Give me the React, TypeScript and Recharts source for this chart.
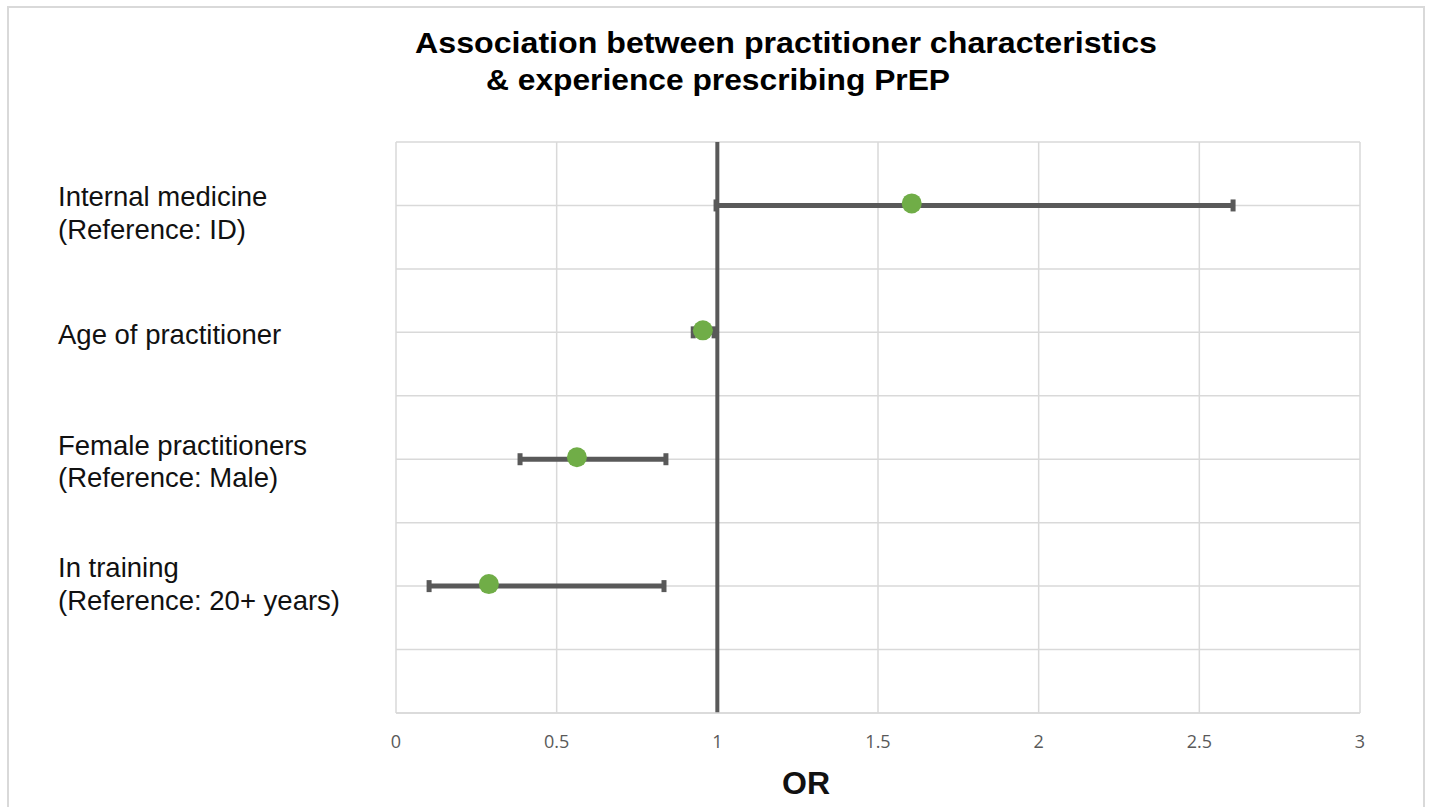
import React from "react";
import {
  ComposedChart,
  Scatter,
  XAxis,
  YAxis,
  CartesianGrid,
  ReferenceLine,
  ErrorBar,
} from "recharts";

// ---- data ----
const categories = [
  ["Internal medicine", "(Reference: ID)"],
  ["Age of practitioner"],
  ["Female practitioners", "(Reference: Male)"],
  ["In training", "(Reference: 20+ years)"],
];
const rowPositions = [8, 6, 4, 2];
const oddsRatios = [1.605, 0.955, 0.563, 0.289];
const lowerCI = [0.996, 0.925, 0.386, 0.103];
const upperCI = [2.605, 0.99, 0.84, 0.834];
const xTicks = [0, 0.5, 1, 1.5, 2, 2.5, 3];
const yTicks = [0, 1, 2, 3, 4, 5, 6, 7, 8, 9];

// label vertical offsets (style only)
const labelOffsets = [
  [1, 34],
  [12],
  [-4, 28],
  [-9, 24],
];

const data = categories.map((c, i) => ({
  name: c.join(" "),
  x: oddsRatios[i],
  y: rowPositions[i],
  err: [oddsRatios[i] - lowerCI[i], upperCI[i] - oddsRatios[i]],
}));

const YTick = (props: any) => {
  const { y, payload } = props;
  const idx = rowPositions.indexOf(payload.value);
  if (idx < 0) return null;
  const lines = categories[idx];
  return (
    <g>
      {lines.map((ln, j) => (
        <text
          key={j}
          x={49}
          y={y + labelOffsets[idx][j]}
          textAnchor="start"
          fontFamily="'Liberation Sans', Arial, sans-serif"
          fontSize={27.5}
          fill="#111"
        >
          {ln}
        </text>
      ))}
    </g>
  );
};

export default function App() {
  return (
    <div
      style={{
        position: "fixed",
        left: 7,
        top: 6,
        width: 1418,
        height: 801,
        borderLeft: "2px solid #d9d9d9",
        borderTop: "2px solid #d9d9d9",
        borderRight: "2px solid #d9d9d9",
        boxSizing: "border-box",
        background: "#fff",
      }}
    >
      <ComposedChart
        width={1414}
        height={799}
        data={data}
        margin={{ top: 134, right: 63, left: 11, bottom: 64 }}
      >
        <CartesianGrid stroke="#d9d9d9" strokeWidth={1.5} />
        <XAxis
          type="number"
          dataKey="x"
          domain={[0, 3]}
          ticks={xTicks}
          interval={0}
          tickLine={false}
          axisLine={{ stroke: "#d9d9d9", strokeWidth: 1.5 }}
          tickMargin={16}
          tick={{ fill: "#595959", fontSize: 18, fontFamily: "'Open Sans', sans-serif" }}
          height={30}
        />
        <YAxis
          type="number"
          dataKey="y"
          domain={[0, 9]}
          ticks={yTicks}
          interval={0}
          tickLine={false}
          axisLine={false}
          width={376}
          tick={<YTick />}
        />
        <ReferenceLine x={1} stroke="#595959" strokeWidth={4} />
        <Scatter
          dataKey="y"
          fill="#70AD47"
          isAnimationActive={false}
          shape={(p: any) => <circle cx={p.cx} cy={p.cy - 2} r={10} fill="#70AD47" />}
        >
          <ErrorBar
            dataKey="err"
            direction="x"
            width={6}
            strokeWidth={5}
            stroke="#595959"
            isAnimationActive={false}
          />
        </Scatter>
      </ComposedChart>
      <svg
        width={1414}
        height={799}
        style={{ position: "absolute", left: 0, top: 0, pointerEvents: "none" }}
      >
        <text
          x={406}
          y={45}
          fontFamily="'Liberation Sans', Arial, sans-serif"
          fontWeight="bold"
          fontSize={30}
          textLength={742}
          lengthAdjust="spacingAndGlyphs"
          fill="#000"
        >
          Association between practitioner characteristics
        </text>
        <text
          x={477}
          y={82}
          fontFamily="'Liberation Sans', Arial, sans-serif"
          fontWeight="bold"
          fontSize={30}
          textLength={464}
          lengthAdjust="spacingAndGlyphs"
          fill="#000"
        >
          &amp; experience prescribing PrEP
        </text>
        <text
          x={797}
          y={786}
          textAnchor="middle"
          fontFamily="'Liberation Sans', Arial, sans-serif"
          fontWeight="bold"
          fontSize={32}
          fill="#111"
        >
          OR
        </text>
      </svg>
    </div>
  );
}
